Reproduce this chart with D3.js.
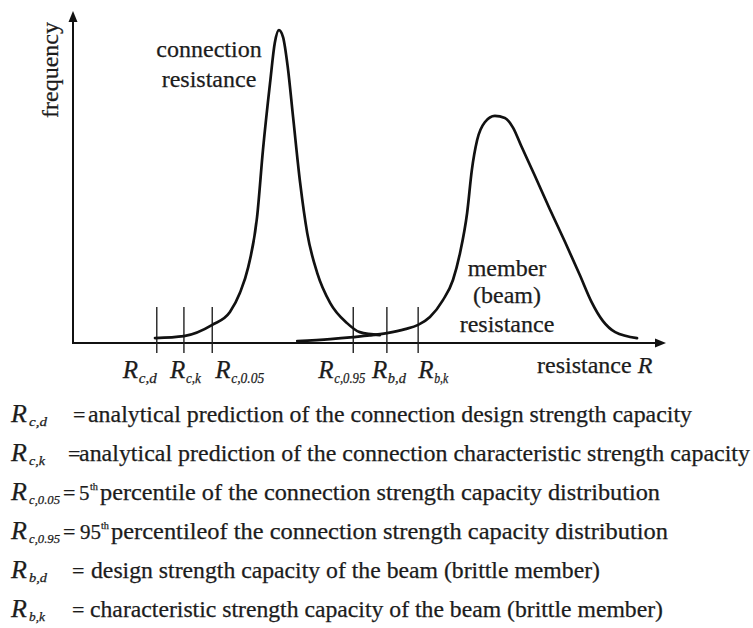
<!DOCTYPE html>
<html>
<head>
<meta charset="utf-8">
<script src="https://cdn.jsdelivr.net/npm/d3@7"></script>
<style>
  html, body { margin: 0; padding: 0; background: #fff; }
  svg { display: block; }
  text { font-family: "Liberation Serif", "Times New Roman", serif; fill: #1c1c1c; stroke: #1c1c1c; stroke-width: 0.25; }
</style>
</head>
<body>
<svg id="chart" width="753" height="628"></svg>
<script>
// ---------------- DATA ----------------
// Connection resistance distribution (resistance, frequency)
const connectionR    = [13.9, 18.8, 23.6, 26.6, 28.3, 29.7, 31.2, 32.2, 33.4, 34.2, 34.9, 35.6, 36.4, 37.3, 38.5, 39.7, 41.4, 43.6, 46.4, 48.6, 52.0];
const connectionFreq = [1.5, 2.1, 5.5, 9.4, 15.2, 23.0, 38.2, 58.5, 78.8, 90.9, 94.8, 92.7, 83.6, 68.5, 48.5, 33.3, 21.2, 12.1, 6.1, 3.3, 2.4];
// Member (beam) resistance distribution
const beamR    = [38.0, 43.6, 47.5, 50.3, 53.2, 56.3, 58.5, 60.5, 62.7, 64.4, 65.6, 66.8, 67.6, 68.5, 69.8, 71.5, 73.2, 74.6, 75.9, 78.3, 80.8, 83.4, 85.9, 87.9, 89.8, 91.9, 95.6];
const beamFreq = [0.6, 1.2, 1.8, 2.3, 3.0, 4.2, 5.5, 7.9, 13.0, 19.1, 27.3, 39.4, 52.4, 61.5, 66.9, 68.8, 68.2, 65.2, 60.0, 50.6, 40.6, 30.6, 20.6, 12.4, 6.7, 3.3, 1.5];
// Marked resistance values on the axis
const tickValues = [14.2, 18.8, 23.6, 47.5, 53.2, 58.5];
const tickSubs   = ["c,d", "c,k", "c,0.05", "c,0.95", "b,d", "b,k"];
// Legend
const legendSubs  = ["c,d", "c,k", "c,0.05", "c,0.95", "b,d", "b,k"];
const legendPre   = ["", "", "5", "95", "", ""];
const legendSup   = ["", "", "th", "th", "", ""];
const legendTexts = [
  "analytical prediction of the connection design strength capacity",
  "analytical prediction of the connection characteristic strength capacity",
  "percentile of the connection strength capacity distribution",
  "percentileof the connection strength capacity distribution",
  "design strength capacity of the beam (brittle member)",
  "characteristic strength capacity of the beam (brittle member)"
];
const axisTitleX = "resistance";
const axisTitleY = "frequency";
const connectionLabel = ["connection", "resistance"];
const beamLabel = ["member", "(beam)", "resistance"];

// ---------------- LAYOUT ----------------
const svg = d3.select("#chart");
const x = d3.scaleLinear().domain([0, 100]).range([73, 663]);
const y = d3.scaleLinear().domain([0, 100]).range([343, 13]);
const ink = "#111";

// axes
const g = svg.append("g");
g.append("line").attr("x1", x(0)).attr("x2", x(0)).attr("y1", y(0) + 1).attr("y2", 20)
  .attr("stroke", ink).attr("stroke-width", 2);
g.append("path").attr("d", `M${x(0)},11 L${x(0) - 4.5},22 L${x(0) + 4.5},22 Z`).attr("fill", ink);
g.append("line").attr("x1", x(0) - 1).attr("x2", 657).attr("y1", y(0)).attr("y2", y(0))
  .attr("stroke", ink).attr("stroke-width", 2);
g.append("path").attr("d", `M666,${y(0)} L655,${y(0) - 4.5} L655,${y(0) + 4.5} Z`).attr("fill", ink);

// tick marks
g.selectAll("line.tick").data(tickValues).enter().append("line")
  .attr("class", "tick")
  .attr("x1", d => x(d)).attr("x2", d => x(d))
  .attr("y1", y(0) - 36).attr("y2", y(0) + 10)
  .attr("stroke", "#222").attr("stroke-width", 1.4);

// curves
const line = d3.line().x(d => x(d[0])).y(d => y(d[1])).curve(d3.curveMonotoneX);
const beamPts = beamR.map((r, i) => [r, beamFreq[i]]);
const connPts = connectionR.map((r, i) => [r, connectionFreq[i]]);
g.append("path").attr("d", line(beamPts)).attr("fill", "none").attr("stroke", ink).attr("stroke-width", 2.7).attr("stroke-linecap", "round");
g.append("path").attr("d", line(connPts)).attr("fill", "none").attr("stroke", ink).attr("stroke-width", 2.7).attr("stroke-linecap", "round");

// tick labels
const labelDx = [-34, -14, 3, -35, -15, 0];
const subW = [18, 15, 33, 31, 18, 14];
tickValues.forEach((v, i) => {
  const x0 = x(v) + labelDx[i];
  g.append("text").attr("x", x0).attr("y", 378).attr("font-style", "italic").attr("font-size", 25).text("R");
  g.append("text").attr("x", x0 + 16).attr("y", 383).attr("font-style", "italic").attr("font-size", 14)
    .attr("textLength", subW[i]).attr("lengthAdjust", "spacingAndGlyphs").text(tickSubs[i]);
});

// axis titles
const xt = g.append("text").attr("x", 537).attr("y", 373).attr("font-size", 24);
xt.append("tspan").text(axisTitleX + " ");
xt.append("tspan").attr("font-style", "italic").text("R");
g.append("text").attr("transform", "translate(58,70) rotate(-90)").attr("text-anchor", "middle")
  .attr("font-size", 24).text(axisTitleY);

// curve labels
connectionLabel.forEach((s, i) => {
  g.append("text").attr("x", 209).attr("y", [57, 87][i]).attr("text-anchor", "middle").attr("font-size", 24).text(s);
});
beamLabel.forEach((s, i) => {
  g.append("text").attr("x", 507).attr("y", [276, 303, 332][i]).attr("text-anchor", "middle").attr("font-size", 24).text(s);
});

// legend
const rowY0 = 422, rowStep = 39;
const eqX = [73, 68, 63, 63, 72, 72];
const preX = [0, 0, 79, 80, 0, 0];
const supX = [0, 0, 90, 101, 0, 0];
const txtX = [88, 79, 100, 111, 91, 90];
const txtEnd = [692, 750, 660, 668, 600, 663];
const legSubW = [18, 16, 31, 31, 18, 16];
legendTexts.forEach((s, i) => {
  const yy = rowY0 + i * rowStep;
  g.append("text").attr("x", 11).attr("y", yy).attr("font-style", "italic").attr("font-size", 26).text("R");
  g.append("text").attr("x", 29).attr("y", yy + 4).attr("font-style", "italic").attr("font-size", 13)
    .attr("textLength", legSubW[i]).attr("lengthAdjust", "spacingAndGlyphs").text(legendSubs[i]);
  g.append("text").attr("x", eqX[i]).attr("y", yy).attr("font-size", 22).text("=");
  if (legendPre[i]) {
    g.append("text").attr("x", preX[i]).attr("y", yy).attr("font-size", 21).text(legendPre[i]);
    g.append("text").attr("x", supX[i]).attr("y", yy - 10).attr("font-size", 11)
      .attr("textLength", 8).attr("lengthAdjust", "spacingAndGlyphs").text(legendSup[i]);
  }
  g.append("text").attr("x", txtX[i]).attr("y", yy).attr("font-size", 23)
    .attr("textLength", txtEnd[i] - txtX[i]).attr("lengthAdjust", "spacingAndGlyphs").text(s);
});
</script>
</body>
</html>
